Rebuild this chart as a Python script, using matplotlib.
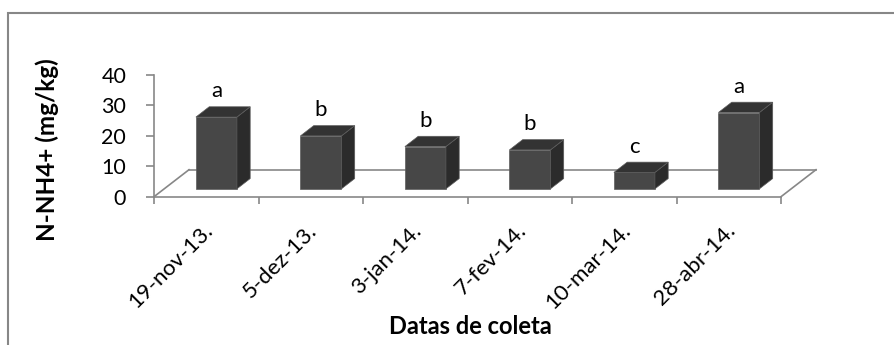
import matplotlib.pyplot as plt
from matplotlib.patches import Polygon, Rectangle

plt.rcParams['font.family'] = ['Lato', 'DejaVu Sans']

# data
dates = ['19-nov-13.', '5-dez-13.', '3-jan-14.', '7-fev-14.', '10-mar-14.', '28-abr-14.']
nh4 = [23.6, 17.4, 13.9, 12.8, 5.4, 25.1]
letters = ['a', 'b', 'b', 'b', 'c', 'a']

W, H = 894, 345
fig = plt.figure(figsize=(W / 100, H / 100), dpi=100)

# axes placed so that the front floor edge / y axis match the original
x0, x1 = 154, 781
y0, y40 = 196.7, 75
ax = fig.add_axes([x0 / W, (H - y0) / H, (x1 - x0) / W, (y0 - y40) / H])
ax.set_xlim(0, 6)
ax.set_ylim(0, 40)

# px -> data helpers
sx = 6 / (x1 - x0)
sy = 40 / (y0 - y40)

# pseudo-3D geometry (oblique)
floor_dx, floor_dy = 35 * sx, 27 * sy
f_front = 0.29
bar_w = 41 * sx
bar_dx, bar_dy = 13.3 * sx, 10.3 * sy
off_x, off_y = f_front * floor_dx, f_front * floor_dy

gray = '#878787'
front_c = '#474747'
side_c = '#2b2b2b'
top_c = '#333333'
edge_c = '#5c5c5c'

# floor outline
ax.plot([0, floor_dx], [0, floor_dy], color=gray, lw=1.2, clip_on=False, zorder=1)
ax.plot([floor_dx, 6 + floor_dx], [floor_dy, floor_dy], color=gray, lw=1.2, clip_on=False, zorder=1)
ax.plot([6, 6 + floor_dx], [0, floor_dy], color=gray, lw=1.2, clip_on=False, zorder=1)

centers = [i + 0.5 for i in range(len(nh4))]
xs = [c + off_x for c in centers]
bars = ax.bar(xs, nh4, width=bar_w, bottom=off_y, color=front_c,
              edgecolor=edge_c, linewidth=0.5, zorder=3, clip_on=False)

for b, v, lab in zip(bars, nh4, letters):
    xl = b.get_x()
    xr = xl + b.get_width()
    yb = b.get_y()
    yt = yb + v
    side = Polygon([(xr, yb), (xr + bar_dx, yb + bar_dy), (xr + bar_dx, yt + bar_dy), (xr, yt)],
                   closed=True, fc=side_c, ec=edge_c, lw=0.5, zorder=3, clip_on=False)
    top = Polygon([(xl, yt), (xr, yt), (xr + bar_dx, yt + bar_dy), (xl + bar_dx, yt + bar_dy)],
                  closed=True, fc=top_c, ec=edge_c, lw=0.5, zorder=3, clip_on=False)
    ax.add_patch(side)
    ax.add_patch(top)
    ax.text((xl + xr) / 2, yt + bar_dy + 9.5 * sy, lab, ha='center', va='baseline',
            fontsize=16, color='black', clip_on=False)

# spines / axes
for s in ['top', 'right']:
    ax.spines[s].set_visible(False)
ax.spines['left'].set_bounds(0, 40)
ax.spines['left'].set_color(gray)
ax.spines['bottom'].set_color(gray)
ax.spines['left'].set_linewidth(1.2)
ax.spines['bottom'].set_linewidth(1.2)
ax.patch.set_visible(False)

ax.set_yticks([0, 10, 20, 30, 40])
ax.tick_params(axis='y', direction='out', length=6, width=1.2, color=gray,
               pad=14, labelsize=15.5)

ax.set_xticks(range(7))
ax.set_xticklabels([])
ax.tick_params(axis='x', which='major', direction='out', length=5, width=1.2, color=gray)
ax.set_xticks([c + 0.03 for c in centers], minor=True)
ax.set_xticklabels(dates, minor=True, rotation=45, ha='right', va='center',
                   rotation_mode='anchor', fontsize=16)
ax.tick_params(axis='x', which='minor', length=0, pad=22)

ax.set_xlabel('Datas de coleta', fontsize=17, fontweight='bold')
ax.xaxis.set_label_coords((470 - x0) / (x1 - x0), (y0 - 326) / (y0 - y40))
ax.xaxis.label.set_va('center')
ax.set_ylabel('N-NH4+ (mg/kg)', fontsize=17.5, fontweight='bold')
ax.yaxis.set_label_coords((47 - x0) / (x1 - x0), (y0 - 150) / (y0 - y40))
ax.yaxis.label.set_va('center')

# chart area border (the picture is cropped from a larger frame)
fig.patches.append(Rectangle((8 / W, -0.5), 1.5, 1 - 13 / H + 0.5, transform=fig.transFigure,
                             fill=False, ec=gray, lw=1.5))

fig.savefig('out.png', dpi=100)
